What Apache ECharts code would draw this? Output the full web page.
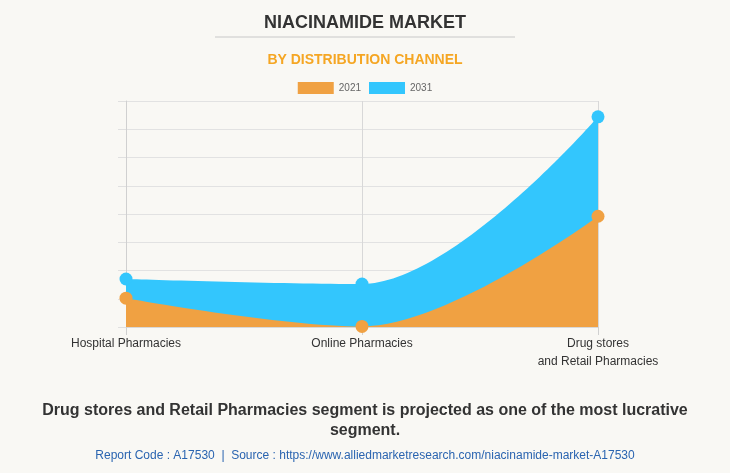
<!DOCTYPE html>
<html>
<head>
<meta charset="utf-8">
<script src="https://cdn.jsdelivr.net/npm/echarts@6/dist/echarts.min.js"></script>
<style>
  html, body { margin: 0; padding: 0; background: #f9f8f4; }
  #main { width: 730px; height: 473px; }
</style>
</head>
<body>
<div id="main"></div>
<script>
// data (arbitrary units, axis labels are hidden)
const categories = ['Hospital Pharmacies', 'Online Pharmacies', 'Drug stores\nand Retail Pharmacies'];
const years = ['2021', '2031'];
const values2021 = [51, 1, 196];
const values2031 = [85, 76, 372];

const orange = '#f0a142';
const blue = '#33c6fd';

let chart = echarts.init(document.getElementById('main'));

let option = {
  backgroundColor: '#f9f8f4',
  title: [
    {
      text: 'NIACINAMIDE MARKET',
      left: 'center',
      top: 9,
      textStyle: { fontFamily: 'Arial, Liberation Sans', fontSize: 18, fontWeight: 'bold', color: '#333' }
    },
    {
      text: 'BY DISTRIBUTION CHANNEL',
      left: 'center',
      top: 48,
      textStyle: { fontFamily: 'Arial, Liberation Sans', fontSize: 14, fontWeight: 'bold', color: '#f5a623' }
    },
    {
      text: 'Drug stores and Retail Pharmacies segment is projected as one of the most lucrative\nsegment.',
      left: 'center',
      top: 396,
      textStyle: { fontFamily: 'Arial, Liberation Sans', fontSize: 16, fontWeight: 'bold', color: '#333', lineHeight: 20, align: 'center' }
    },
    {
      text: 'Report Code : A17530  |  Source : https://www.alliedmarketresearch.com/niacinamide-market-A17530',
      left: 'center',
      top: 445,
      textStyle: { fontFamily: 'Arial, Liberation Sans', fontSize: 12, fontWeight: 'normal', color: '#2a64b0' }
    }
  ],
  graphic: [
    {
      type: 'line',
      shape: { x1: 215, y1: 37, x2: 515, y2: 37 },
      style: { stroke: '#c8c8c8', lineWidth: 1 }
    }
  ],
  legend: {
    data: years,
    top: 77,
    left: 'center',
    icon: 'rect',
    itemWidth: 36,
    itemHeight: 12,
    itemGap: 8,
    textStyle: { fontFamily: 'Arial, Liberation Sans', fontSize: 10, color: '#666' }
  },
  grid: { left: 126, right: 132, top: 101, bottom: 146 },
  xAxis: {
    type: 'category',
    data: categories,
    boundaryGap: false,
    axisLine: { show: true, lineStyle: { color: '#d8d8d8' } },
    axisTick: { show: true, length: 8, lineStyle: { color: '#d0d0d0' } },
    splitLine: { show: true, lineStyle: { color: '#d8d8d8' } },
    axisLabel: { fontFamily: 'Arial, Liberation Sans', fontSize: 12, color: '#333', margin: 8, lineHeight: 18 }
  },
  yAxis: {
    type: 'value',
    min: 0,
    max: 400,
    interval: 50,
    axisLine: { show: true, lineStyle: { color: '#d0d0d0' } },
    axisTick: { show: true, length: 8, lineStyle: { color: '#e0e0e0' } },
    axisLabel: { show: false },
    splitLine: { show: true, lineStyle: { color: '#e2e2e2' } }
  },
  series: [
    {
      name: '2031',
      type: 'line',
      data: values2031,
      smooth: 0.35,
      symbol: 'circle',
      symbolSize: 13,
      lineStyle: { width: 0 },
      itemStyle: { color: blue },
      areaStyle: { color: blue, opacity: 1 },
      z: 2
    },
    {
      name: '2021',
      type: 'line',
      data: values2021,
      smooth: 0.35,
      symbol: 'circle',
      symbolSize: 13,
      lineStyle: { width: 0 },
      itemStyle: { color: orange },
      areaStyle: { color: orange, opacity: 1 },
      z: 3
    }
  ]
};

chart.setOption(option);
</script>
</body>
</html>
